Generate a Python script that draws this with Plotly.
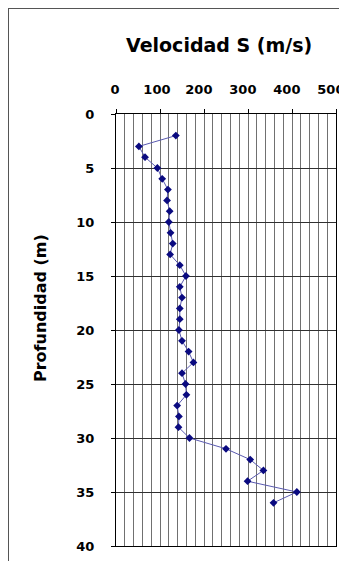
import plotly.graph_objects as go

depth = list(range(2, 37))
velocity = [136, 52, 66, 94, 105, 118, 116, 122, 120, 124, 129, 123,
            145, 159, 145, 150, 145, 145, 143, 150, 165, 176, 150, 158,
            160, 139, 143, 142, 167, 250, 305, 335, 299, 411, 358]

x_ticks = [0, 100, 200, 300, 400, 500]
x_tick_pad = [0, 1, 2, 2, 2, 2]
y_ticks = [0, 5, 10, 15, 20, 25, 30, 35, 40]

FONT = "DejaVu Sans, Arial, sans-serif"

fig = go.Figure()
fig.add_trace(go.Scatter(
    x=velocity, y=depth, mode="lines+markers",
    line=dict(color="#5a5ab0", width=1),
    marker=dict(symbol="diamond", size=6, color="#0a0a80"),
    showlegend=False, cliponaxis=False))

tick_font = dict(family=FONT, size=13, color="black")

fig.update_layout(
    width=347, height=561,
    margin=dict(l=108, r=19, t=106, b=23, autoexpand=False),
    paper_bgcolor="white", plot_bgcolor="white",
    xaxis=dict(
        side="top", range=[0, 500], tickvals=x_ticks,
        ticktext=[f"<b>{v}</b>" + "\u00a0" * p for v, p in zip(x_ticks, x_tick_pad)],
        tickfont=tick_font, ticks="outside", ticklen=4, tickcolor="black",
        showgrid=True, gridcolor="#707070", gridwidth=1,
        minor=dict(dtick=20, tick0=0, showgrid=True, gridcolor="#707070", gridwidth=1),
        showline=True, linecolor="black", linewidth=1, mirror=True,
        zeroline=False, ticklabelstandoff=10, ticklabelshift=-1,
        automargin=False, fixedrange=True),
    yaxis=dict(
        range=[40, 0], tickvals=y_ticks,
        ticktext=[f"<b>{v}</b>" for v in y_ticks],
        tickfont=tick_font, ticks="outside", ticklen=4, tickcolor="black",
        showgrid=True, gridcolor="#303030", gridwidth=1,
        showline=True, linecolor="black", linewidth=1, mirror=True,
        zeroline=False, ticklabelstandoff=14, automargin=False, fixedrange=True),
    annotations=[
        dict(text="<b>Velocidad S (m/s)</b>", xref="paper", yref="paper",
             x=0.468, y=1.0, yshift=69, showarrow=False, xanchor="center", yanchor="middle",
             font=dict(family=FONT, size=19, color="black")),
        dict(text="<b>Profundidad (m)</b>", xref="paper", yref="paper",
             x=0, xshift=-76, y=0.5, yshift=22, textangle=-90, showarrow=False,
             xanchor="center", yanchor="middle",
             font=dict(family=FONT, size=16, color="black")),
    ],
)
fig.add_shape(type="rect", xref="paper", yref="paper",
              x0=-108 / 220, x1=1.5, y0=1 + 106 / 432, y1=-0.2,
              line=dict(color="#555555", width=2), layer="below")
fig.write_html("out.html")
